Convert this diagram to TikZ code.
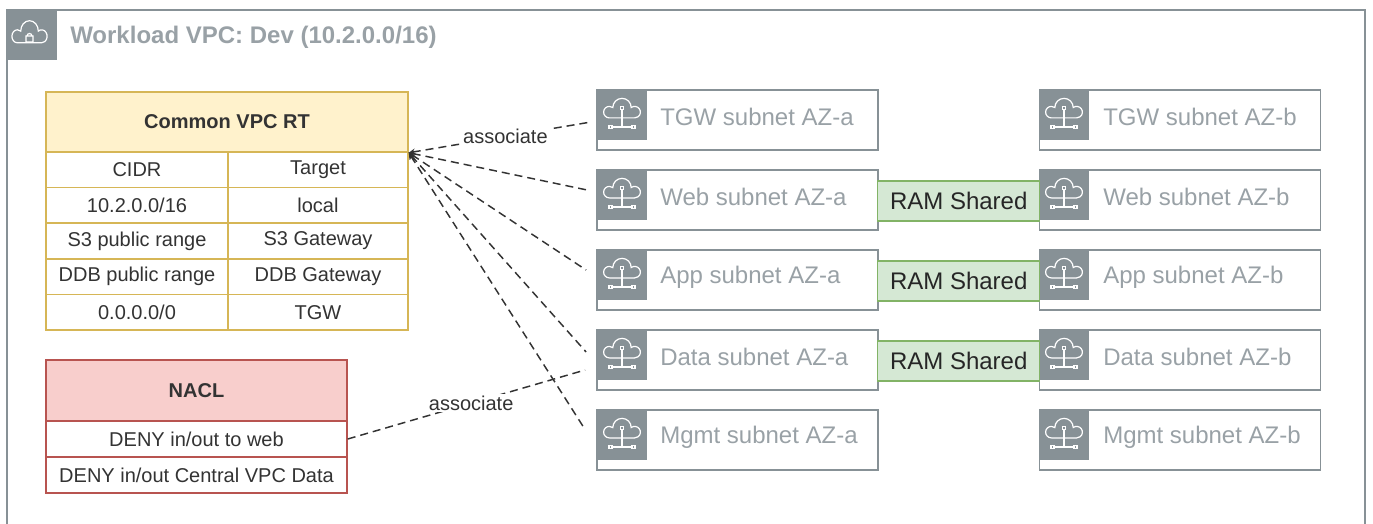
\documentclass[tikz,border=0pt]{standalone}
\usepackage{fontspec}
\setmainfont{Liberation Sans}
\usetikzlibrary{calc,positioning}
\tikzset{>=stealth}
\definecolor{awsgray}{HTML}{879196}
\definecolor{rtfill}{HTML}{FFF2CC}
\definecolor{rtline}{HTML}{D6B656}
\definecolor{naclfill}{HTML}{F8CECC}
\definecolor{naclline}{HTML}{B85450}
\definecolor{ramfill}{HTML}{D5E8D4}
\definecolor{ramline}{HTML}{82B366}
\definecolor{textdark}{HTML}{333333}
\newcommand{\awscloud}{(-11,6) arc[start angle=90,end angle=307,radius=5] arc[start angle=180,end angle=360,radius=8] arc[start angle=233,end angle=450,radius=5] -- cycle}
\tikzset{
  subnetbox/.style={draw=awsgray,line width=1.1pt,minimum width=211pt,minimum height=45pt,inner sep=0pt},
  subnettext/.style={anchor=west,inner sep=0pt,text=awsgray!85,font=\fontsize{18pt}{21pt}\selectfont},
  vpctitle/.style={anchor=west,inner sep=0pt,text=awsgray!85,font=\fontsize{18pt}{21pt}\selectfont\bfseries},
  rthead/.style={draw=rtline,fill=rtfill,line width=1.1pt,minimum width=271.5pt,minimum height=45pt,inner sep=0pt,text=textdark,font=\fontsize{15pt}{18pt}\selectfont\bfseries},
  rtcell/.style={draw=rtline,fill=white,line width=1.1pt,minimum height=26.7pt,inner sep=0pt,text=textdark,font=\fontsize{15pt}{18pt}\selectfont},
  naclhead/.style={draw=naclline,fill=naclfill,line width=1.1pt,minimum width=225.75pt,minimum height=45.75pt,inner sep=0pt,text=textdark,font=\fontsize{15pt}{18pt}\selectfont\bfseries},
  naclcell/.style={draw=naclline,fill=white,line width=1.1pt,minimum width=225.75pt,minimum height=27pt,inner sep=0pt,text=textdark,font=\fontsize{15pt}{18pt}\selectfont},
  ramshared/.style={draw=ramline,fill=ramfill,line width=1.1pt,minimum width=121.5pt,minimum height=30pt,inner sep=0pt,text=black!85,font=\fontsize{18pt}{21pt}\selectfont},
  assoc/.style={draw=textdark,line width=1.1pt,dash pattern=on 6pt off 3.75pt},
  assoclabel/.style={fill=white,inner sep=1pt,text=textdark,font=\fontsize{15pt}{18pt}\selectfont},
  subneticon/.pic={
    \fill[awsgray] (-25,-25) rectangle (25,25);
    \draw[white,line width=.9pt,shift={(0,-4)},scale=1.15] \awscloud;
    \draw[white,line width=.9pt] (-1.5,-8.5) rectangle (1.5,-5.5) (0,-5.5) -- (0,12) (-10,12) -- (10,12);
    \draw[white,line width=.9pt] (-13,10.5) rectangle (-10,13.5) (10,10.5) rectangle (13,13.5);
  },
  vpcicon/.pic={
    \fill[awsgray] (-25,-25) rectangle (25,25);
    \draw[white,line width=.9pt,shift={(-2.5,0)},xscale=1.1,yscale=1.3] \awscloud;
    \draw[white,line width=.9pt] (-6,1) rectangle (1,7) (-5,1) arc[start angle=180,end angle=360,radius=2.5];
  }
}

\begin{document}
\begin{tikzpicture}[x=.75pt,y=-.75pt]
  \useasboundingbox (0,0) rectangle (1373,524);
  \draw[awsgray,line width=1.1pt] (7,530) -- (7,10) -- (1365,10) -- (1365,530);
  \pic at (32,35) {vpcicon};
  \node[vpctitle] (vpc) at (70,37) {Workload VPC: Dev (10.2.0.0/16)};

  \node[rthead] (rt) at (227,122) {Common VPC RT};
  \foreach \cidr/\target [count=\i] in {CIDR/Target,{10.2.0.0/16}/local,S3 public range/S3 Gateway,DDB public range/DDB Gateway,{0.0.0.0/0}/TGW} {
      \node[rtcell,minimum width=136.5pt] (rt-c\i) at (137,{152+35.6*(\i-.5)}) {\cidr};
      \node[rtcell,minimum width=135pt] (rt-t\i) at (318,{152+35.6*(\i-.5)}) {\target};
    }

  \node[naclhead] (nacl) at (196.5,390.5) {NACL};
  \foreach \acl [count=\i] in {{DENY in/out to web},{DENY in/out Central VPC Data}} {
      \node[naclcell] (nacl-r\i) at (196.5,{421+36*(\i-.5)}) {\acl};
    }

  \foreach \sn/\lbl/\y in {tgw/TGW/120,web/Web/200,app/App/280,data/Data/360,mgmt/Mgmt/440} {
      \node[subnetbox] (\sn-a) at (737.5,\y) {};
      \node[subnetbox] (\sn-b) at (1180,\y) {};
      \pic at (622,{\y-5}) {subneticon};
      \pic at (1064,{\y-5}) {subneticon};
      \node[subnettext] (\sn-a-text) at (660,{\y-3}) {\lbl\ subnet AZ-a};
      \node[subnettext] (\sn-b-text) at (1103,{\y-3}) {\lbl\ subnet AZ-b};
    }
  \foreach \sn in {web,app,data} {
      \node[ramshared] (ram-\sn) at ($(\sn-a.east)!.5!(\sn-b.west)+(0,1)$) {RAM Shared};
    }

  \draw[assoc,<-] (rt.south east) -- node[assoclabel,pos=.53] {associate} ($(tgw-a.west)+(-5,2)$);
  \foreach \sn/\dx/\dy in {web/-9/-10,app/-10/-10,data/-10/-8,mgmt/-12/-12} {
      \draw[assoc,<-] (rt.south east) -- ($(\sn-a.west)+(\dx,\dy)$);
    }
  \draw[assoc] (nacl-r1.east) -- node[assoclabel,pos=.52] {associate} ($(data-a.west)+(-11,10)$);
\end{tikzpicture}
\end{document}
